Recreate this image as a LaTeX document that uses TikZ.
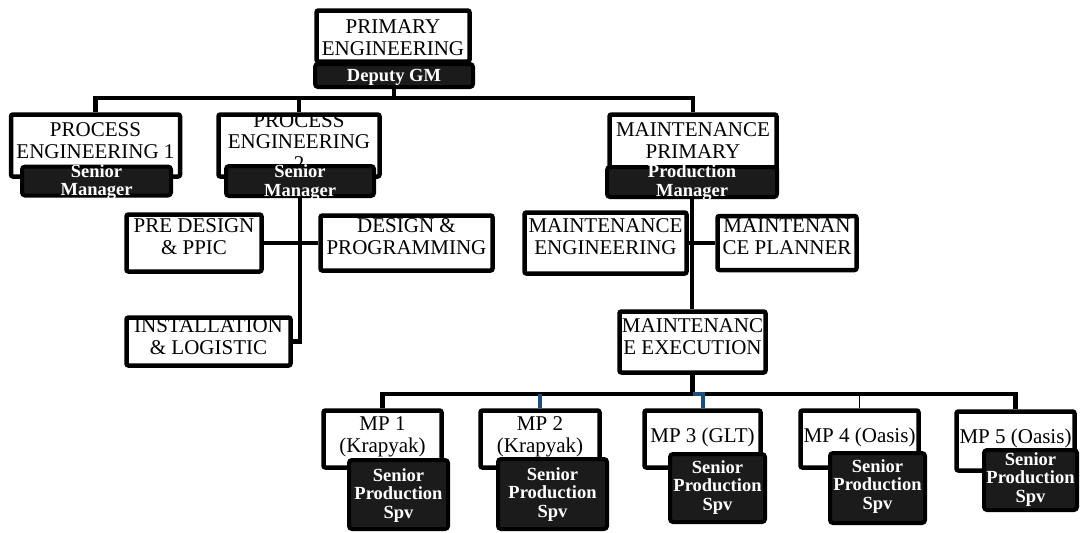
\documentclass[tikz,border=0pt]{standalone}
\usepackage{fontspec}
\setmainfont{Liberation Serif}
\usetikzlibrary{positioning}
\definecolor{linkblue}{HTML}{1F4E79}
\definecolor{tagfill}{HTML}{1B1B1B}
\tikzset{
  unit/.style={draw=black,line width=4.5pt,fill=white,rounded corners=2pt,inner sep=0pt,align=center,font=\fontsize{21}{21.5}\selectfont},
  tag/.style={draw=black,line width=4pt,fill=tagfill,text=white,rounded corners=3pt,inner sep=0pt,align=center,font=\bfseries\fontsize{18.5}{18.5}\selectfont},
  lastbase/.style={text height=#1,text depth=0pt},
  link/.style={line width=4.5pt}
}

\begin{document}
\begin{tikzpicture}[x=1pt,y=-1pt]
\useasboundingbox (0,0) rectangle (1080,533);
\coordinate (bus) at (0,98);
\coordinate (lowbus) at (0,394);

\node[unit,minimum width=153,minimum height=51,lastbase=38pt] (top) at (393,36) {PRIMARY\\ENGINEERING};
\node[tag,minimum width=158,minimum height=23,lastbase=11pt] (topl) at (394,75.5) {Deputy GM};

\node[unit,minimum width=169,minimum height=62,lastbase=25pt] (pe1) at (95.5,145.5) {PROCESS\\ENGINEERING 1};
\node[tag,minimum width=149,minimum height=28,lastbase=29pt] (pe1l) at (96.5,181) {Senior\\Manager};
\node[unit,minimum width=161,minimum height=62,lastbase=49pt] (pe2) at (299,145.5) {PROCESS\\ENGINEERING\\2};
\node[tag,minimum width=148,minimum height=28,lastbase=30pt] (pe2l) at (300,181) {Senior\\Manager};
\node[unit,minimum width=167,minimum height=62,lastbase=25pt] (mp) at (693,145.5) {MAINTENANCE\\PRIMARY};
\node[tag,minimum width=170,minimum height=30,lastbase=28pt] (mpl) at (692,182) {Production\\Manager};

\node[unit,minimum width=135,minimum height=57,lastbase=22pt] (pre) at (194,243) {PRE DESIGN\\\& PPIC};
\node[unit,minimum width=172,minimum height=55,lastbase=22pt] (des) at (406.5,243) {DESIGN \&\\PROGRAMMING};
\node[unit,minimum width=164,minimum height=48,lastbase=25pt] (inst) at (208.5,341.5) {INSTALLATION\\\& LOGISTIC};

\node[unit,minimum width=162,minimum height=61,lastbase=22pt] (meng) at (605.5,243) {MAINTENANCE\\ENGINEERING};
\node[unit,minimum width=139,minimum height=54,lastbase=22pt] (mplan) at (787,243) {MAINTENAN\\CE PLANNER};
\node[unit,minimum width=146,minimum height=61,lastbase=24pt] (mexe) at (692.5,342) {MAINTENANC\\E EXECUTION};

\node[unit,minimum width=118,minimum height=57,lastbase=26pt] (mp1) at (382.5,439) {MP 1\\(Krapyak)};
\node[tag,minimum width=99,minimum height=69,lastbase=47pt] (mp1l) at (398.5,494.5) {Senior\\Production\\Spv};
\node[unit,minimum width=119,minimum height=57,lastbase=26pt] (mp2) at (540,439) {MP 2\\(Krapyak)};
\node[tag,minimum width=109,minimum height=70,lastbase=46pt] (mp2l) at (552.5,494) {Senior\\Production\\Spv};
\node[unit,minimum width=116,minimum height=57,lastbase=6pt] (mp3) at (702.5,439) {MP 3 (GLT)};
\node[tag,minimum width=95,minimum height=68,lastbase=44pt] (mp3l) at (717.5,488) {Senior\\Production\\Spv};
\node[unit,minimum width=118,minimum height=57,lastbase=6pt] (mp4) at (859.5,439) {MP 4 (Oasis)};
\node[tag,minimum width=95,minimum height=70,lastbase=42pt] (mp4l) at (877.5,488) {Senior\\Production\\Spv};
\node[unit,minimum width=118,minimum height=59,lastbase=4pt] (mp5) at (1015.5,441) {MP 5 (Oasis)};
\node[tag,minimum width=93,minimum height=60,lastbase=44pt] (mp5l) at (1030.5,480) {Senior\\Production\\Spv};

\draw[link] (pe1.north) |- (topl.south |- bus) -| (mp.north);
\draw[link] (topl.south) -- (topl.south |- bus);
\draw[link] (pe2.north) -- (pe2.north |- bus);
\draw[link] (pe2l.south) |- (inst.east);
\draw[link] (pre.east) -- (des.west);
\draw[link] (mpl.south) -- (mpl.south |- mexe.north);
\draw[link] (meng.east) -- (mplan.west);
\draw[link] (mp1.north) |- (mp5.north |- lowbus) -- (mp5.north);
\draw[link] (mexe.south) -- (mexe.south |- lowbus);
\draw[link,linkblue,line width=4pt] (mp2.north) -- (mp2.north |- lowbus);
\draw[link,linkblue,line width=4pt] (mexe.south |- lowbus) -| (mp3.north);
\draw[line width=1.5pt] (mp4.north) -- (mp4.north |- lowbus);

\end{tikzpicture}
\end{document}
